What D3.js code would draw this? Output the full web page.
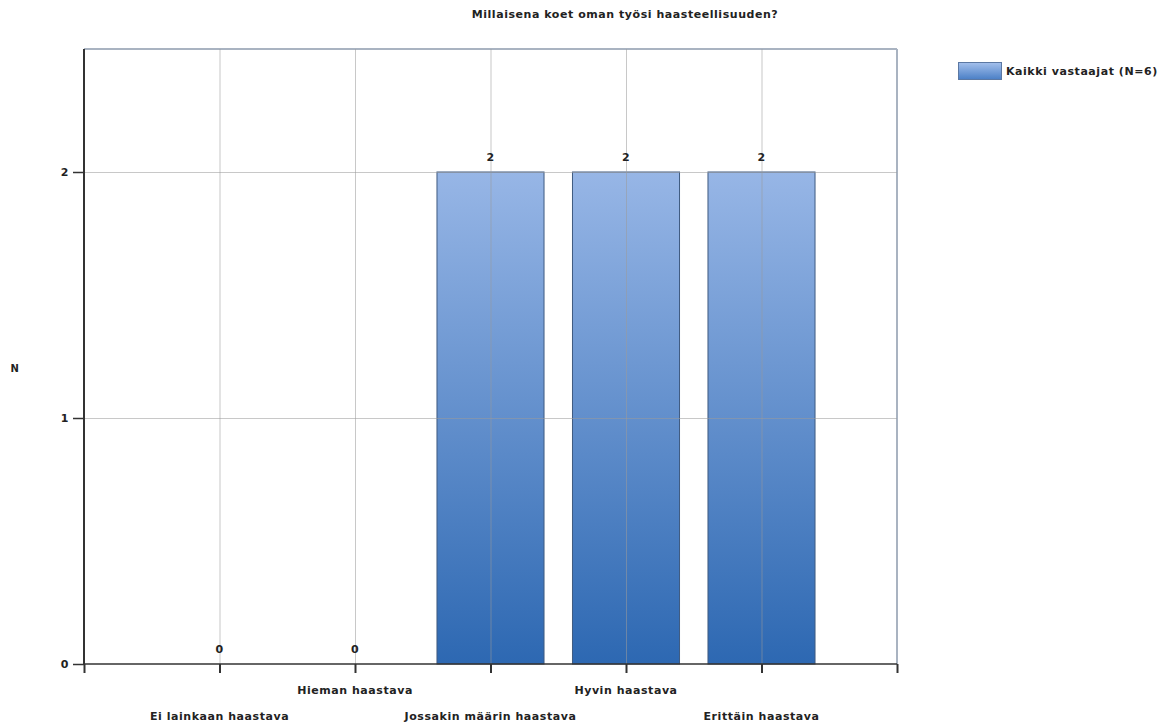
<!DOCTYPE html>
<html>
<head>
<meta charset="utf-8">
<script src="https://cdn.jsdelivr.net/npm/d3@7"></script>
<style>
  html, body { margin: 0; padding: 0; background: #fff; }
  svg text { font-family: "DejaVu Sans", Verdana, sans-serif; font-weight: bold; font-size: 11px; letter-spacing: 0.55px; fill: #222; }
</style>
</head>
<body>
<svg id="chart" width="1171" height="727"></svg>
<script>
// Survey answers: how challenging respondents find their work
const title = "Millaisena koet oman työsi haasteellisuuden?";
const categories = ["Ei lainkaan haastava", "Hieman haastava", "Jossakin määrin haastava", "Hyvin haastava", "Erittäin haastava"];
const counts = [0, 0, 2, 2, 2];
const yTicks = [0, 1, 2];
const seriesName = "Kaikki vastaajat (N=6)";
const yLabel = "N";

const svg = d3.select("#chart");
const margin = { left: 84, right: 1171 - 897, top: 49, bottom: 727 - 664 };
const W = 1171, H = 727;
const plotW = W - margin.left - margin.right;
const plotH = H - margin.top - margin.bottom;

const x = d3.scaleLinear().domain([0, categories.length + 1]).range([margin.left, margin.left + plotW]);
const y = d3.scaleLinear().domain([0, 2.5]).range([margin.top + plotH, margin.top]);
const step = x(1) - x(0);
const barW = step * 0.79;

const defs = svg.append("defs");
const grad = defs.append("linearGradient").attr("id", "barGrad").attr("x1", 0).attr("y1", 0).attr("x2", 0).attr("y2", 1);
grad.append("stop").attr("offset", "0%").attr("stop-color", "#97b6e6");
grad.append("stop").attr("offset", "100%").attr("stop-color", "#2d68b2");
const lgrad = defs.append("linearGradient").attr("id", "legGrad").attr("x1", 0).attr("y1", 0).attr("x2", 0).attr("y2", 1);
lgrad.append("stop").attr("offset", "0%").attr("stop-color", "#a4c0ec");
lgrad.append("stop").attr("offset", "100%").attr("stop-color", "#4a7fc6");

// Title
svg.append("text").attr("x", 625).attr("y", 18).attr("text-anchor", "middle").text(title);

// Plot frame (top and right edges)
svg.append("line").attr("x1", margin.left).attr("x2", margin.left + plotW).attr("y1", margin.top).attr("y2", margin.top)
  .attr("stroke", "#a9b3c1").attr("stroke-width", 2);
svg.append("line").attr("x1", margin.left + plotW).attr("x2", margin.left + plotW).attr("y1", margin.top).attr("y2", margin.top + plotH)
  .attr("stroke", "#a9b3c1").attr("stroke-width", 2);

// Bars
const idx = d3.range(categories.length);
svg.append("g").selectAll("rect").data(idx.filter(i => counts[i] > 0)).join("rect")
  .attr("x", i => x(i + 1) - barW / 2)
  .attr("y", i => y(counts[i]))
  .attr("width", barW)
  .attr("height", i => y(0) - y(counts[i]))
  .attr("fill", "url(#barGrad)")
  .attr("stroke", "#3f5a80").attr("stroke-width", 1);

// Grid lines, drawn over the bars
const grid = svg.append("g").attr("stroke", "#9a9a9a").attr("stroke-opacity", 0.55).attr("stroke-width", 1);
grid.selectAll(".gx").data(idx).join("line")
  .attr("x1", i => x(i + 1) + 0.5).attr("x2", i => x(i + 1) + 0.5)
  .attr("y1", margin.top).attr("y2", margin.top + plotH);
grid.selectAll(".gy").data(yTicks.filter(t => t > 0)).join("line")
  .attr("x1", margin.left).attr("x2", margin.left + plotW)
  .attr("y1", d => Math.round(y(d)) + 0.5).attr("y2", d => Math.round(y(d)) + 0.5);

// Y axis
const yAxis = d3.axisLeft(y).tickValues(yTicks).tickFormat(d3.format("d")).tickSize(11).tickPadding(4);
const yg = svg.append("g").attr("transform", `translate(${margin.left},0)`).call(yAxis);
yg.select(".domain").attr("stroke", "#333").attr("stroke-width", 2).attr("d", `M0,${margin.top}V${margin.top + plotH}`);
yg.selectAll(".tick line").attr("stroke", "#333").attr("stroke-width", 1.5);
yg.selectAll(".tick text").attr("fill", "#222").style("font-size", "11px").style("font-family", "DejaVu Sans, sans-serif").style("font-weight", "bold");

// X axis
const xAxis = d3.axisBottom(x).tickValues(d3.range(0, categories.length + 2)).tickFormat("").tickSize(9);
const xg = svg.append("g").attr("transform", `translate(0,${margin.top + plotH})`).call(xAxis);
xg.select(".domain").attr("stroke", "#333").attr("stroke-width", 1.5).attr("d", `M${margin.left},0H${margin.left + plotW}`);
xg.selectAll(".tick line").attr("stroke", "#333").attr("stroke-width", 2);

// Category labels, staggered on two rows
svg.append("g").selectAll("text").data(idx).join("text")
  .attr("x", i => x(i + 1))
  .attr("y", i => (i % 2 === 0) ? 720 : 694)
  .attr("text-anchor", "middle")
  .text(i => categories[i]);

// Value labels
svg.append("g").selectAll("text").data(idx).join("text")
  .attr("x", i => x(i + 1))
  .attr("y", i => y(counts[i]) - 11)
  .attr("text-anchor", "middle")
  .text(i => counts[i]);

// Y axis title
svg.append("text").attr("x", 15).attr("y", 372).attr("text-anchor", "middle").style("font-size", "10px").text(yLabel);

// Legend
svg.append("rect").attr("x", 958.5).attr("y", 62.5).attr("width", 43).attr("height", 17)
  .attr("fill", "url(#legGrad)").attr("stroke", "#5b78a3").attr("stroke-width", 1);
svg.append("text").attr("x", 1006).attr("y", 75).text(seriesName);
</script>
</body>
</html>
